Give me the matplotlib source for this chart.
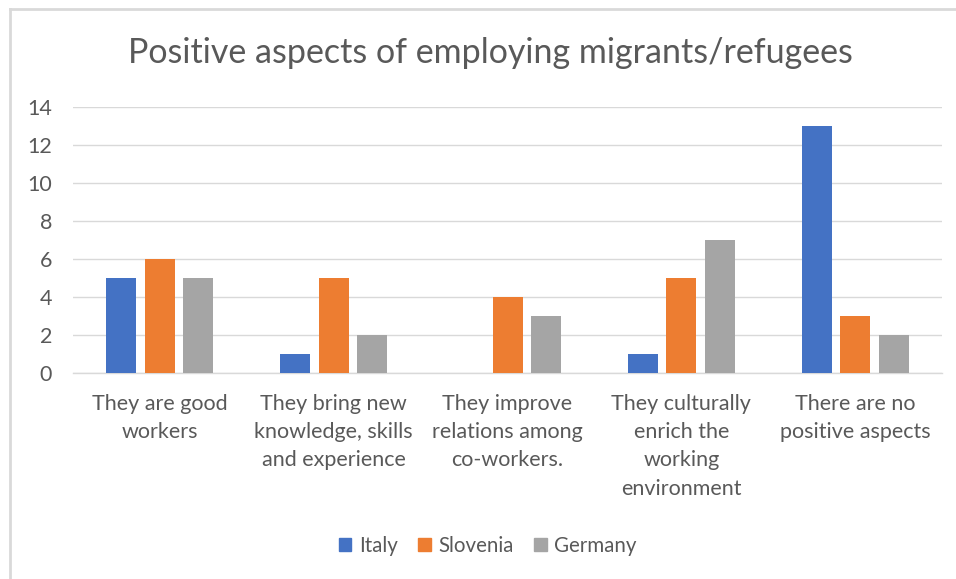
import numpy as np
import matplotlib.pyplot as plt
from matplotlib.lines import Line2D

categories = [
    "They are good\nworkers",
    "They bring new\nknowledge, skills\nand experience",
    "They improve\nrelations among\nco-workers.",
    "They culturally\nenrich the\nworking\nenvironment",
    "There are no\npositive aspects",
]
italy = [5, 1, 0, 1, 13]
slovenia = [6, 5, 4, 5, 3]
germany = [5, 2, 3, 7, 2]
series_names = ["Italy", "Slovenia", "Germany"]
colors = ["#4472C4", "#ED7D31", "#A5A5A5"]
text_color = "#595959"

plt.rcParams['font.family'] = ['Lato', 'DejaVu Sans']

fig = plt.figure(figsize=(9.56, 5.79), dpi=100)
ax = fig.add_axes([0.0764, 0.3558, 0.909, 0.4594])

x = np.arange(len(categories))
step = 0.2215
width = 0.173
for i, (vals, name, c) in enumerate(zip([italy, slovenia, germany], series_names, colors)):
    ax.bar(x + (i - 1) * step, vals, width, color=c, label=name, zorder=3)

ax.set_xlim(-0.5, len(categories) - 0.5)
ax.set_ylim(0, 14)
ax.set_yticks(range(0, 15, 2))
ax.yaxis.grid(True, color="#D9D9D9", linewidth=1.0, zorder=0)
for s in ["top", "right", "left"]:
    ax.spines[s].set_visible(False)
ax.spines["bottom"].set_color("#D9D9D9")
ax.spines["bottom"].set_linewidth(1.0)
ax.tick_params(axis="both", length=0, colors=text_color)
ax.tick_params(axis="y", pad=15, labelsize=15.5)
ax.tick_params(axis="x", pad=15, labelsize=15.5)
ax.set_xticks(x)
ax.set_xticklabels(categories, linespacing=1.52)

fig.text(0.513, 0.908, "Positive aspects of employing migrants/refugees",
         ha="center", va="center", fontsize=24.5, color=text_color)

handles = [plt.Rectangle((0, 0), 1, 1, color=c) for c in colors]
fig.legend(handles, series_names, loc="center", bbox_to_anchor=(0.51, 0.057), ncol=3,
           frameon=False, fontsize=14.8, labelcolor=text_color,
           handlelength=0.62, handleheight=0.62, handletextpad=0.35, columnspacing=1.0)

# light chart frame along the top and left edges
fig.add_artist(Line2D([9.5 / 956, 9.5 / 956], [0, 1 - 8.5 / 579], transform=fig.transFigure,
                      color="#D9D9D9", linewidth=2))
fig.add_artist(Line2D([9.5 / 956, 1], [1 - 8.5 / 579, 1 - 8.5 / 579], transform=fig.transFigure,
                      color="#D9D9D9", linewidth=2))

fig.savefig("out.png", dpi=100)
